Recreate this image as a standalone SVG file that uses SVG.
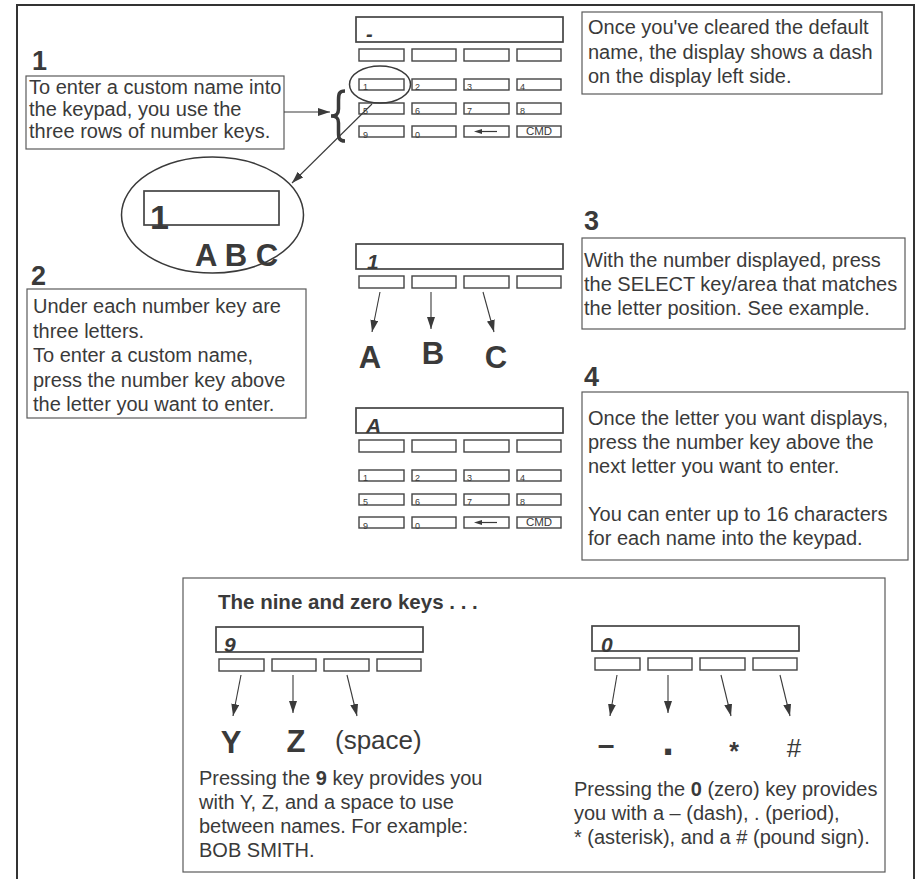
<svg xmlns="http://www.w3.org/2000/svg" xmlns:xlink="http://www.w3.org/1999/xlink" width="918" height="879" viewBox="0 0 918 879">
<style>
text{font-family:"Liberation Sans",Arial,sans-serif;fill:#3a3a3a}
.body{font-size:20px}
.num{font-size:27px;font-weight:bold}
.big{font-size:31px;font-weight:bold}
.disp{font-size:21px;font-weight:bold;font-style:italic}
.kl{font-size:9px}
.box{fill:#fff;stroke:#5a5a5a;stroke-width:1.2}
.key{fill:#fff;stroke:#444;stroke-width:1.4}
.dsp{fill:#fff;stroke:#444;stroke-width:1.7}
.ln{stroke:#3a3a3a;stroke-width:1.1;fill:none}
.ell{fill:none;stroke:#3a3a3a;stroke-width:1.5}
</style>
<defs>
<marker id="ah" markerUnits="userSpaceOnUse" markerWidth="12" markerHeight="8" refX="12" refY="4" orient="auto">
<path d="M0,0 L12,4 L0,8 z" fill="#3a3a3a"/>
</marker>
<g id="dispsel">
<rect class="dsp" x="0" y="0" width="207" height="25"/>
<rect class="key" x="3" y="32" width="45" height="12"/>
<rect class="key" x="56" y="32" width="44" height="12"/>
<rect class="key" x="108" y="32" width="45" height="12"/>
<rect class="key" x="161" y="32" width="44" height="12"/>
</g>
<g id="numkeys">
<rect class="key" x="3" y="0" width="45" height="11"/>
<rect class="key" x="56" y="0" width="44" height="11"/>
<rect class="key" x="108" y="0" width="45" height="11"/>
<rect class="key" x="161" y="0" width="44" height="11"/>
<rect class="key" x="3" y="24" width="45" height="11"/>
<rect class="key" x="56" y="24" width="44" height="11"/>
<rect class="key" x="108" y="24" width="45" height="11"/>
<rect class="key" x="161" y="24" width="44" height="11"/>
<rect class="key" x="3" y="47" width="45" height="11"/>
<rect class="key" x="56" y="47" width="44" height="11"/>
<rect class="key" x="108" y="47" width="45" height="11"/>
<rect class="key" x="161" y="47" width="44" height="11"/>
<text class="kl" x="7" y="11">1</text>
<text class="kl" x="59" y="11">2</text>
<text class="kl" x="111" y="11">3</text>
<text class="kl" x="164" y="11">4</text>
<text class="kl" x="7" y="35">5</text>
<text class="kl" x="59" y="35">6</text>
<text class="kl" x="111" y="35">7</text>
<text class="kl" x="164" y="35">8</text>
<text class="kl" x="7" y="58.5">9</text>
<text class="kl" x="59" y="58.5">0</text>
<line x1="125" y1="52.5" x2="141" y2="52.5" stroke="#3a3a3a" stroke-width="1.2"/>
<path d="M118,52.5 L126,50 L126,55 z" fill="#3a3a3a"/>
<text x="183" y="56" font-size="11.5" text-anchor="middle">CMD</text>
</g>
</defs>

<rect x="17" y="5" width="897" height="890" fill="none" stroke="#333" stroke-width="2"/>

<g id="keypad-top">
<use xlink:href="#dispsel" x="356" y="17"/>
<use xlink:href="#numkeys" x="356" y="79"/>
<text x="366" y="41" font-size="20" font-weight="bold" font-style="italic">-</text>
<ellipse class="ell" cx="380" cy="84.5" rx="30.5" ry="18.5"/>
</g>

<g id="note-top">
<rect class="box" x="582" y="12" width="300" height="82"/>
<text class="body" x="588" y="34">Once you've cleared the default</text>
<text class="body" x="588" y="59">name, the display shows a dash</text>
<text class="body" x="588" y="83">on the display left side.</text>
</g>

<g id="step1">
<text class="num" x="32" y="70" font-size="26">1</text>
<rect class="box" x="26" y="76" width="258" height="73"/>
<text class="body" x="29" y="94">To enter a custom name into</text>
<text class="body" x="29" y="116">the keypad, you use the</text>
<text class="body" x="29" y="138">three rows of number keys.</text>
</g>

<g id="brace">
<path d="M345,91 C339,91 338.5,94 338.5,100 L338.5,109 C338.5,113.5 337,116 331,116 C337,116 338.5,118.5 338.5,123 L338.5,132 C338.5,138 339,141 345,141" fill="none" stroke="#3a3a3a" stroke-width="3.5"/>
</g>

<g id="magnified">
<ellipse class="ell" cx="212.5" cy="215" rx="91" ry="58"/>
<rect class="dsp" x="144" y="191" width="135" height="34"/>
<text x="150" y="229" font-size="34" font-weight="bold">1</text>
<text class="big" x="195" y="266">A B C</text>
</g>

<g id="step2">
<text class="num" x="31" y="285">2</text>
<rect class="box" x="27" y="289" width="279" height="129"/>
<text class="body" x="33" y="313">Under each number key are</text>
<text class="body" x="33" y="338">three letters.</text>
<text class="body" x="33" y="362">To enter a custom name,</text>
<text class="body" x="33" y="387">press the number key above</text>
<text class="body" x="33" y="411">the letter you want to enter.</text>
</g>

<g id="keypad-step3">
<use xlink:href="#dispsel" x="356" y="244"/>
<text class="disp" x="367" y="269">1</text>
<text class="big" x="370" y="368" text-anchor="middle">A</text>
<text class="big" x="433" y="364" text-anchor="middle">B</text>
<text class="big" x="496" y="368" text-anchor="middle">C</text>
</g>

<g id="step3">
<text class="num" x="584" y="230">3</text>
<rect class="box" x="582" y="238" width="323" height="91"/>
<text class="body" x="584" y="267">With the number displayed, press</text>
<text class="body" x="584" y="291">the SELECT key/area that matches</text>
<text class="body" x="584" y="315">the letter position. See example.</text>
</g>

<g id="keypad-step4">
<use xlink:href="#dispsel" x="356" y="408"/>
<use xlink:href="#numkeys" x="356" y="470"/>
<text class="disp" x="366" y="433" font-size="23">A</text>
</g>

<g id="step4">
<text class="num" x="584" y="386">4</text>
<rect class="box" x="582" y="392" width="326" height="168"/>
<text class="body" x="588" y="425">Once the letter you want displays,</text>
<text class="body" x="588" y="449">press the number key above the</text>
<text class="body" x="588" y="473">next letter you want to enter.</text>
<text class="body" x="588" y="521">You can enter up to 16 characters</text>
<text class="body" x="588" y="545">for each name into the keypad.</text>
</g>

<g id="nine-zero">
<rect class="box" x="183" y="578" width="702" height="294" stroke="#444" stroke-width="1.5"/>
<text x="218" y="609" font-size="20.5" font-weight="bold">The nine and zero keys . . .</text>
<g id="nine">
<use xlink:href="#dispsel" x="216" y="627"/>
<text class="disp" x="224" y="652">9</text>
<text class="big" x="231" y="753" text-anchor="middle">Y</text>
<text class="big" x="296" y="752" text-anchor="middle">Z</text>
<text x="335" y="749" font-size="26">(space)</text>
<text class="body" x="199" y="785">Pressing the <tspan font-weight="bold">9</tspan> key provides you</text>
<text class="body" x="199" y="809">with Y, Z, and a space to use</text>
<text class="body" x="199" y="833">between names. For example:</text>
<text class="body" x="199" y="857">BOB SMITH.</text>
</g>
<g id="zero">
<use xlink:href="#dispsel" x="592" y="626" />
<text class="disp" x="601" y="652">0</text>
<text x="606" y="755" font-size="30" font-weight="bold" text-anchor="middle">–</text>
<text x="668" y="755" font-size="42" font-weight="bold" text-anchor="middle">.</text>
<text x="734" y="760" font-size="25" font-weight="bold" text-anchor="middle">*</text>
<text x="794" y="757" font-size="26" text-anchor="middle">#</text>
<text class="body" x="574" y="796">Pressing the <tspan font-weight="bold">0</tspan> (zero) key provides</text>
<text class="body" x="574" y="820">you with a – (dash), . (period),</text>
<text class="body" x="574" y="844">* (asterisk), and a # (pound sign).</text>
</g>
</g>

<g id="connectors">
<line class="ln" x1="284" y1="112" x2="330" y2="112" marker-end="url(#ah)"/>
<line class="ln" x1="372" y1="104" x2="292" y2="183" marker-end="url(#ah)"/>
<line class="ln" x1="380" y1="292" x2="372" y2="332" marker-end="url(#ah)"/>
<line class="ln" x1="431" y1="292" x2="431" y2="329" marker-end="url(#ah)"/>
<line class="ln" x1="483" y1="292" x2="494" y2="332" marker-end="url(#ah)"/>
<line class="ln" x1="241" y1="675" x2="233" y2="716" marker-end="url(#ah)"/>
<line class="ln" x1="293" y1="675" x2="293" y2="713" marker-end="url(#ah)"/>
<line class="ln" x1="347" y1="675" x2="357" y2="716" marker-end="url(#ah)"/>
<line class="ln" x1="617" y1="675" x2="610" y2="716" marker-end="url(#ah)"/>
<line class="ln" x1="668" y1="675" x2="668" y2="713" marker-end="url(#ah)"/>
<line class="ln" x1="721" y1="675" x2="731" y2="716" marker-end="url(#ah)"/>
<line class="ln" x1="780" y1="675" x2="790" y2="716" marker-end="url(#ah)"/>
</g>
</svg>
